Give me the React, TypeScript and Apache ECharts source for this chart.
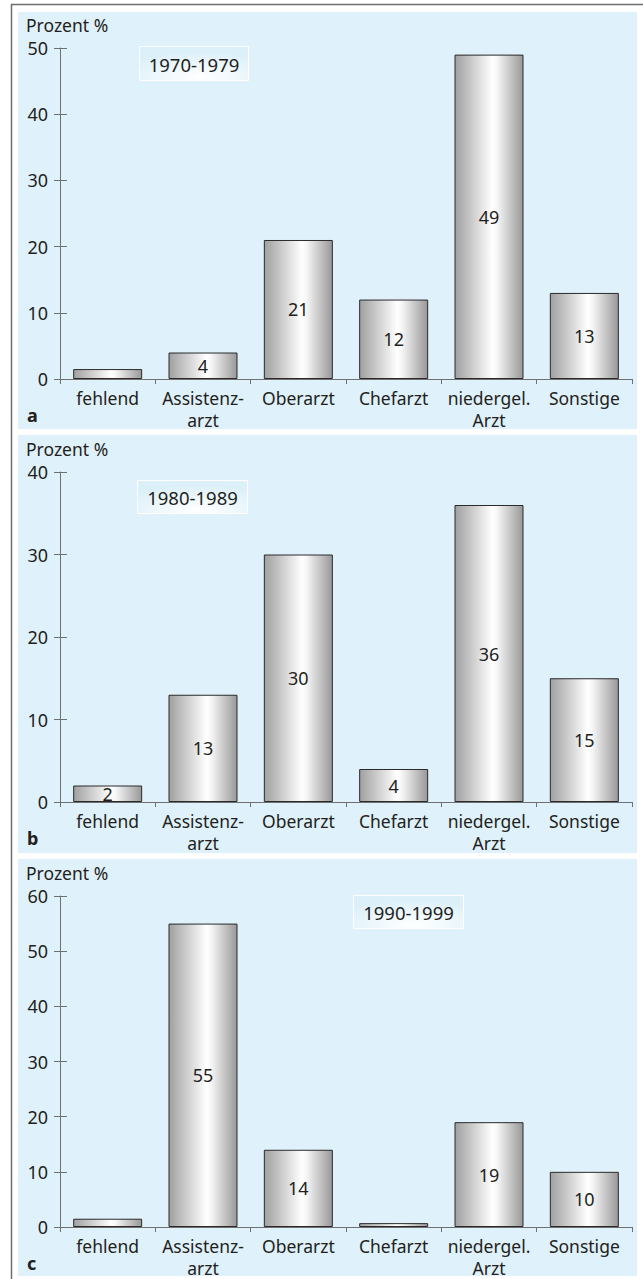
import React, { useEffect, useRef } from 'react';
import * as echarts from 'echarts';

const categories = ['fehlend', 'Assistenz-\narzt', 'Oberarzt', 'Chefarzt', 'niedergel.\nArzt', 'Sonstige'];
const values1970 = [1.5, 4, 21, 12, 49, 13];
const values1980 = [2, 13, 30, 4, 36, 15];
const values1990 = [1.5, 55, 14, 0.7, 19, 10];
const seriesValues = [values1970, values1980, values1990];
const periods = ['1970-1979', '1980-1989', '1990-1999'];
const panelLetters = ['a', 'b', 'c'];
const yMaxima = [50, 40, 60];
const yInterval = 10;
const yTitle = 'Prozent %';

const FONT = '"Noto Sans", "Open Sans", sans-serif';
const TEXT = '#231f20';
const AXIS = '#707070';
const BG = '#dff1fa';

const panels = [
  { bgTop: 12, bgBottom: 429, gridTop: 48, gridH: 331, box: { x: 139, y: 46, w: 109, h: 34 } },
  { bgTop: 435, bgBottom: 853, gridTop: 472, gridH: 330, box: { x: 137, y: 480, w: 110, h: 33 } },
  { bgTop: 859, bgBottom: 1276, gridTop: 896, gridH: 331, box: { x: 353, y: 895, w: 110, h: 33 } },
];

export default function App() {
  const ref = useRef<HTMLDivElement>(null);
  useEffect(() => {
    if (!ref.current) return;
    const chart = echarts.init(ref.current, undefined, { renderer: 'svg' });

    const barColor = new echarts.graphic.LinearGradient(0, 0, 1, 0, [
      { offset: 0, color: '#a0a0a0' },
      { offset: 0.55, color: '#ffffff' },
      { offset: 0.62, color: '#f6f6f6' },
      { offset: 1, color: '#989898' },
    ]);

    const grids: any[] = [];
    const xAxes: any[] = [];
    const yAxes: any[] = [];
    const series: any[] = [];
    const graphics: any[] = [];

    graphics.push({
      type: 'polyline', z: 20,
      shape: { points: [[11.5, 1279], [11.5, 4.5], [643, 4.5]] },
      style: { stroke: '#6e6e6e', lineWidth: 1.5, fill: null },
    });

    panels.forEach((p, i) => {
      graphics.push({
        type: 'rect', z: -10,
        shape: { x: 18, y: p.bgTop, width: 619, height: p.bgBottom - p.bgTop },
        style: { fill: BG },
      });
      graphics.push({
        type: 'text', z: 10,
        style: { text: yTitle, x: 26, y: p.gridTop - 23, fontSize: 17.5, fontFamily: FONT, fill: TEXT, textVerticalAlign: 'middle', textAlign: 'left' },
      });
      graphics.push({
        type: 'text', z: 10,
        style: { text: panelLetters[i], x: 27, y: p.gridTop + p.gridH + 36, fontSize: 18, fontWeight: 'bold', fontFamily: FONT, fill: TEXT, textVerticalAlign: 'middle', textAlign: 'left' },
      });
      graphics.push({
        type: 'rect', z: 10,
        shape: { x: p.box.x + 0.5, y: p.box.y + 0.5, width: p.box.w, height: p.box.h },
        style: {
          fill: new echarts.graphic.RadialGradient(0.55, 0.9, 0.75, [
            { offset: 0, color: '#ffffff' },
            { offset: 1, color: '#dcf0f9' },
          ]),
          stroke: '#ffffff', lineWidth: 1,
        },
      });
      graphics.push({
        type: 'text', z: 11,
        style: { text: periods[i], x: p.box.x + p.box.w / 2 + 0.5, y: p.box.y + p.box.h / 2 + 1, fontSize: 18.5, fontFamily: FONT, fill: TEXT, textVerticalAlign: 'middle', textAlign: 'center' },
      });

      grids.push({ left: 60, right: 11, top: p.gridTop, height: p.gridH, outerBoundsMode: 'none', containLabel: false });
      xAxes.push({
        type: 'category', gridIndex: i, data: categories,
        axisLine: { lineStyle: { color: AXIS, width: 1 } },
        axisTick: { show: true, length: 5, lineStyle: { color: AXIS } },
        axisLabel: { interval: 0, fontSize: 17.5, lineHeight: 22, color: TEXT, margin: 8, fontFamily: FONT },
        splitLine: { show: false },
      });
      yAxes.push({
        type: 'value', gridIndex: i, position: 'left', min: 0, max: yMaxima[i], interval: yInterval,
        axisLine: { show: true, lineStyle: { color: AXIS, width: 1 } },
        axisTick: { show: true, length: 6, lineStyle: { color: AXIS } },
        axisLabel: { fontSize: 18, lineHeight: 18, color: TEXT, margin: 12, fontFamily: FONT },
        splitLine: { show: false },
      });
      yAxes.push({
        type: 'value', gridIndex: i, position: 'left', min: 0, max: yMaxima[i], interval: yInterval,
        axisLine: { show: false },
        axisTick: { show: true, inside: true, length: 7, lineStyle: { color: AXIS } },
        axisLabel: { show: false },
        splitLine: { show: false },
      });
      series.push({
        type: 'bar', xAxisIndex: i, yAxisIndex: i * 2, barWidth: 69,
        data: seriesValues[i].map((v) => ({ value: v, label: { show: v >= 2 } })),
        itemStyle: { color: barColor, borderColor: '#2a2a2a', borderWidth: 1 },
        label: { show: true, position: 'inside', color: TEXT, fontSize: 18, fontFamily: FONT },
      });
    });

    chart.setOption({
      animation: false,
      backgroundColor: '#ffffff',
      textStyle: { fontFamily: FONT },
      grid: grids,
      xAxis: xAxes,
      yAxis: yAxes,
      series,
      graphic: graphics,
    });
    return () => chart.dispose();
  }, []);
  return <div ref={ref} style={{ position: 'absolute', left: 0, top: 0, width: 643, height: 1279 }} />;
}
